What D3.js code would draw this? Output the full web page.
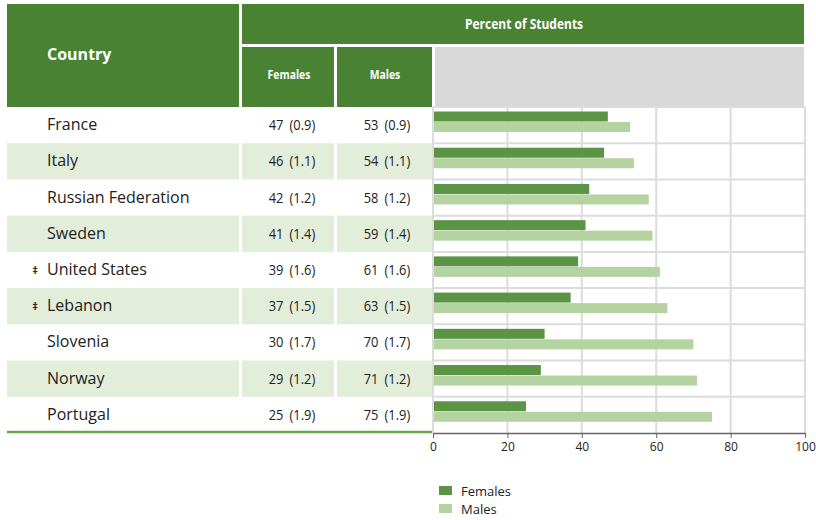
<!DOCTYPE html>
<meta charset="utf-8">
<style>
    body { margin: 0; background: #fff; }
    text { font-family: "Open Sans", "Noto Sans", sans-serif; }
</style>
<script src="https://d3js.org/d3.v7.min.js"></script>
<div id="chart"></div>
<script>
    // data
    var countries = ["France", "Italy", "Russian Federation", "Sweden", "United States", "Lebanon", "Slovenia", "Norway", "Portugal"];
    var flags = ["", "", "", "", "\u2021", "\u2021", "", "", ""];
    var females = [47, 46, 42, 41, 39, 37, 30, 29, 25];
    var femalesSE = [0.9, 1.1, 1.2, 1.4, 1.6, 1.5, 1.7, 1.2, 1.9];
    var males = [53, 54, 58, 59, 61, 63, 70, 71, 75];
    var malesSE = [0.9, 1.1, 1.2, 1.4, 1.6, 1.5, 1.7, 1.2, 1.9];
    var xTicks = [0, 20, 40, 60, 80, 100];
    var seriesNames = ["Females", "Males"];

    var dark = "#4a8234", barDark = "#5a9444", barLight = "#b5d3a0", shade = "#e2edda";

    var svg = d3.select("#chart").append("svg")
        .attr("width", 816).attr("height", 520);

    var rowTop = 107, rowBottom = 433;
    var y = d3.scaleBand().domain(d3.range(countries.length)).range([rowTop, rowBottom]);
    var x = d3.scaleLinear().domain([0, 100]).range([433, 805]);

    // header cells
    var head = svg.append("g");
    head.append("rect").attr("x", 7).attr("y", 4).attr("width", 232).attr("height", 103).attr("fill", dark);
    head.append("rect").attr("x", 242).attr("y", 4).attr("width", 562).attr("height", 40).attr("fill", dark);
    head.append("rect").attr("x", 242).attr("y", 47).attr("width", 92).attr("height", 60).attr("fill", dark);
    head.append("rect").attr("x", 337).attr("y", 47).attr("width", 95).attr("height", 60).attr("fill", dark);
    head.append("rect").attr("x", 435).attr("y", 47).attr("width", 369).attr("height", 60).attr("fill", "#d9d9d9");

    head.append("text").attr("x", 47).attr("y", 60).attr("fill", "#fff")
        .style("font-size", "16px").style("font-weight", "bold").text("Country");
    function condensed(tx, ty, label, size) {
        head.append("text")
            .attr("transform", "translate(" + tx + "," + ty + ") scale(0.8,1)")
            .attr("text-anchor", "middle").attr("fill", "#fff")
            .style("font-size", size + "px").style("font-weight", "bold")
            .text(label);
    }
    condensed(524, 29, "Percent of Students", 15);
    condensed(289, 79, "Females", 13);
    condensed(385, 79, "Males", 13);

    // rows
    var rows = svg.append("g").selectAll("g").data(countries).join("g")
        .attr("transform", function(d, i) { return "translate(0," + y(i) + ")"; });

    rows.filter(function(d, i) { return i % 2 === 1; }).each(function() {
        var g = d3.select(this);
        g.append("rect").attr("x", 7).attr("y", 0).attr("width", 232).attr("height", y.bandwidth()).attr("fill", shade);
        g.append("rect").attr("x", 242).attr("y", 0).attr("width", 92).attr("height", y.bandwidth()).attr("fill", shade);
        g.append("rect").attr("x", 337).attr("y", 0).attr("width", 95).attr("height", y.bandwidth()).attr("fill", shade);
    });

    rows.append("text").attr("x", 47).attr("y", y.bandwidth() / 2 + 5)
        .attr("fill", "#222").style("font-size", "16px")
        .text(function(d) { return d; });
    rows.append("text").attr("x", 35).attr("y", y.bandwidth() / 2 + 4)
        .attr("text-anchor", "middle")
        .attr("fill", "#222").style("font-size", "11px").style("font-weight", "bold")
        .text(function(d, i) { return flags[i]; });
    rows.append("text")
        .attr("transform", "translate(292," + (y.bandwidth() / 2 + 5) + ") scale(0.92,1)")
        .attr("text-anchor", "middle").attr("fill", "#222").style("font-size", "14px")
        .style("word-spacing", "3px")
        .text(function(d, i) { return females[i] + " (" + femalesSE[i].toFixed(1) + ")"; });
    rows.append("text")
        .attr("transform", "translate(387," + (y.bandwidth() / 2 + 5) + ") scale(0.92,1)")
        .attr("text-anchor", "middle").attr("fill", "#222").style("font-size", "14px")
        .style("word-spacing", "3px")
        .text(function(d, i) { return males[i] + " (" + malesSE[i].toFixed(1) + ")"; });

    // grid in plot panel
    var grid = svg.append("g");
    grid.selectAll(".vg").data(xTicks).join("line")
        .attr("x1", function(d) { return x(d); }).attr("x2", function(d) { return x(d); })
        .attr("y1", rowTop).attr("y2", rowBottom)
        .attr("stroke", "#dcdcdc").attr("stroke-width", 2);
    grid.selectAll(".hg").data(d3.range(countries.length)).join("line")
        .attr("x1", x(0)).attr("x2", x(100))
        .attr("y1", function(d) { return y(d); }).attr("y2", function(d) { return y(d); })
        .attr("stroke", "#dcdcdc").attr("stroke-width", 2);

    // bars
    var barH = 10;
    svg.append("g").selectAll("rect").data(females).join("rect")
        .attr("x", x(0) + 1).attr("y", function(d, i) { return y(i) + 4.5; })
        .attr("width", function(d) { return x(d) - x(0) - 1; }).attr("height", barH)
        .attr("fill", barDark);
    svg.append("g").selectAll("rect").data(males).join("rect")
        .attr("x", x(0) + 1).attr("y", function(d, i) { return y(i) + 4.5 + barH + 0.5; })
        .attr("width", function(d) { return x(d) - x(0) - 1; }).attr("height", barH)
        .attr("fill", barLight);

    // bottom rule of the table
    svg.append("line").attr("x1", 7).attr("x2", 432).attr("y1", rowBottom - 1).attr("y2", rowBottom - 1)
        .attr("stroke", "#6aa84f").attr("stroke-width", 2.5);

    // axis
    var axis = svg.append("g").attr("transform", "translate(0," + rowBottom + ")")
        .call(d3.axisBottom(x).tickValues(xTicks).tickSize(5).tickSizeOuter(0));
    axis.select(".domain").attr("stroke", "#666").attr("stroke-width", 1.5);
    axis.selectAll(".tick line").attr("stroke", "#666");
    axis.selectAll(".tick text").attr("fill", "#222").style("font-size", "12px")
        .style("font-family", "'Open Sans', sans-serif").attr("dy", "0.85em");

    // legend
    var legend = svg.append("g").selectAll("g").data(seriesNames).join("g")
        .attr("transform", function(d, i) { return "translate(439," + (486 + i * 18) + ")"; });
    legend.append("rect").attr("width", 13).attr("height", 9)
        .attr("fill", function(d, i) { return i === 0 ? barDark : barLight; });
    legend.append("text").attr("x", 22).attr("y", 10)
        .attr("fill", "#222").style("font-size", "13px")
        .text(function(d) { return d; });
</script>
